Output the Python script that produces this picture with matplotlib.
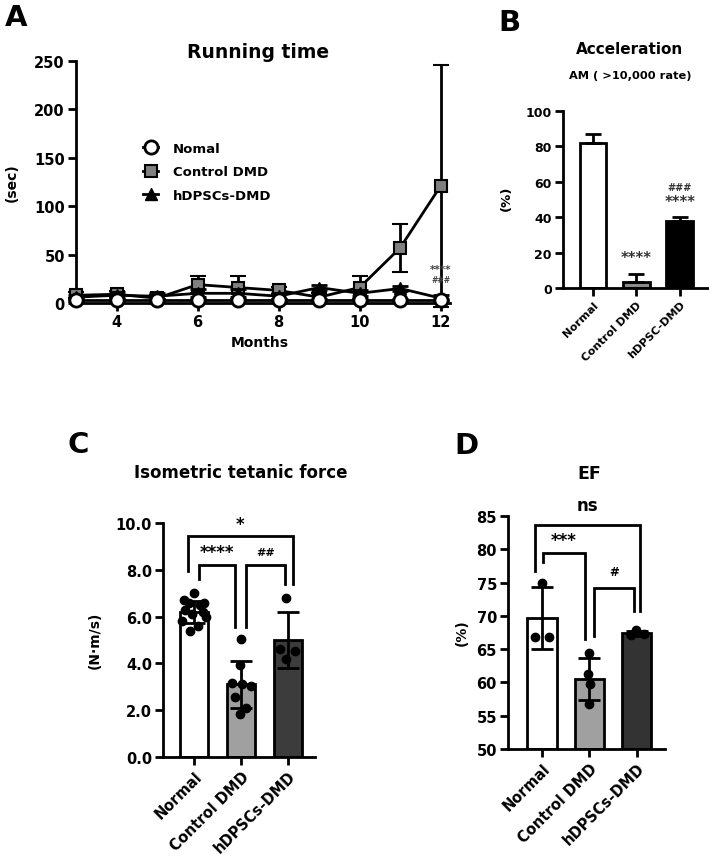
import matplotlib
matplotlib.use("Agg")
import matplotlib.pyplot as plt
from matplotlib.lines import Line2D
import numpy as np

plt.rcParams['font.family'] = ['DejaVu Sans']
plt.rcParams['font.weight'] = 'bold'

# ---- data ----
months = [3, 4, 5, 6, 7, 8, 9, 10, 11, 12]
normal_run = [3, 3, 3, 3, 3, 3, 3, 3, 3, 3]
normal_run_err = [1, 1, 1, 1, 1, 1, 1, 1, 1, 1]
control_run = [8, 9, 5, 19, 16, 13, 6, 16, 57, 121]
control_run_err = [3, 3, 3, 9, 12, 4, 4, 12, 25, 125]
hdpsc_run = [6, 8, 7, 10, 10, 7, 16, 10, 15, 5]
hdpsc_run_err = [2, 3, 3, 4, 4, 3, 3, 3, 3, 3]

groups_b = ["Normal", "Control DMD", "hDPSC-DMD"]
accel_mean = [82, 3.5, 38]
accel_err = [5, 4.5, 2]

groups_cd = ["Normal", "Control DMD", "hDPSCs-DMD"]
force_mean = [6.2, 3.1, 5.0]
force_sd = [0.48, 1.0, 1.2]
force_normal = [7.0, 6.7, 6.6, 6.6, 6.5, 6.3, 6.2, 6.1, 6.0, 5.8, 5.6, 5.4]
force_control = [5.05, 3.95, 3.15, 3.1, 3.05, 2.55, 2.1, 1.85]
force_hdpsc = [6.8, 4.6, 4.55, 4.2]

ef_mean = [69.7, 60.5, 67.4]
ef_sd = [4.65, 3.2, 0.4]
ef_normal = [75.0, 66.8, 66.8]
ef_control = [64.4, 61.3, 59.8, 56.8]
ef_hdpsc = [67.9, 67.2, 67.1]

W, H = 709, 862
fig = plt.figure(figsize=(W / 100, H / 100), dpi=100)


def px_axes(left, top, right, bottom):
    return fig.add_axes([left / W, 1 - bottom / H, (right - left) / W, (bottom - top) / H])


def ftext(x, y, s, size, **kw):
    fig.text(x / W, 1 - y / H, s, fontsize=size, fontweight='bold',
             ha=kw.pop('ha', 'center'), va=kw.pop('va', 'center'), **kw)


def style(ax, fs=10):
    for s in ['top', 'right']:
        ax.spines[s].set_visible(False)
    for s in ['left', 'bottom']:
        ax.spines[s].set_linewidth(2.0)
    ax.tick_params(width=2.0, length=6, labelsize=fs, pad=2)
    for lab in ax.get_xticklabels() + ax.get_yticklabels():
        lab.set_fontweight('bold')


def bracket(ax, x1, x2, y, yl1, yl2, text, ty, fs):
    ax.plot([x1, x1, x2, x2], [yl1, y, y, yl2], color='black', lw=2.0,
            solid_joinstyle='miter', clip_on=False)
    ax.text((x1 + x2) / 2, ty, text, ha='center', va='center', fontsize=fs,
            fontweight='bold', clip_on=False)


# ---- panel A ----
axA = px_axes(76, 62, 450, 304)
axA.errorbar(months, control_run, yerr=control_run_err, color='black', lw=2,
             marker='s', ms=8.5, mfc='#808080', mec='black', mew=1.5,
             capsize=6, capthick=2, elinewidth=2, clip_on=False, zorder=3)
axA.errorbar(months, hdpsc_run, yerr=hdpsc_run_err, color='black', lw=2,
             marker='^', ms=8.5, mfc='black', mec='black',
             capsize=6, capthick=2, elinewidth=2, clip_on=False, zorder=4)
axA.errorbar(months, normal_run, yerr=normal_run_err, color='black', lw=2,
             marker='o', ms=9.5, mfc='white', mec='black', mew=2,
             capsize=6, capthick=2, elinewidth=2, clip_on=False, zorder=5)
axA.set_xlim(3, 12.23)
axA.set_ylim(0, 250)
axA.set_xticks([4, 6, 8, 10, 12])
axA.set_yticks([0, 50, 100, 150, 200, 250])
style(axA, 10.5)
axA.text(12, 35, "****", ha='center', va='center', fontsize=7.5, color='#444444')
axA.text(12, 24, "###", ha='center', va='center', fontsize=5.5, color='#444444')
handles = [
    Line2D([], [], color='black', lw=2, marker='o', ms=9.5, mfc='white', mec='black', mew=2),
    Line2D([], [], color='black', lw=2, marker='s', ms=8.5, mfc='#808080', mec='black', mew=1.5),
    Line2D([], [], color='black', lw=2, marker='^', ms=9, mfc='black', mec='black'),
]
leg = fig.legend(handles, ["Nomal", "Control DMD", "hDPSCs-DMD"], loc='upper left',
                 bbox_to_anchor=(136 / W, 1 - 136 / H), frameon=False, borderpad=0,
                 handlelength=1.2, handletextpad=1.1, labelspacing=0.8,
                 prop={'size': 9.5, 'weight': 'bold'})
ftext(16, 18, "A", 21)
ftext(258, 53, "Running time", 13.5)
ftext(12, 183, "(sec)", 10, rotation=90)
ftext(260, 343, "Months", 10)

# ---- panel B ----
axB = px_axes(563, 112, 709, 289)
xb = np.arange(len(groups_b))
axB.bar(xb, accel_mean, width=0.62, color=['white', '#8c8c8c', 'black'],
        edgecolor='black', linewidth=2.0, zorder=2)
axB.errorbar(xb, accel_mean, yerr=[[0, 0, 0], accel_err], fmt='none', ecolor='black',
             elinewidth=2, capsize=6, capthick=2, zorder=3)
axB.set_xlim(-0.69, 2.67)
axB.set_ylim(0, 100)
axB.set_yticks([0, 20, 40, 60, 80, 100])
axB.set_xticks(xb)
axB.set_xticklabels(groups_b, rotation=45, ha='right', rotation_mode='anchor')
style(axB, 9)
for lab in axB.get_xticklabels():
    lab.set_fontsize(8)
axB.text(1, 17.5, "****", ha='center', va='center', fontsize=10.5, color='#333333')
axB.text(2, 48.6, "****", ha='center', va='center', fontsize=10.5, color='#333333')
axB.text(2, 57, "###", ha='center', va='center', fontsize=7, color='#333333')
ftext(509, 23, "B", 21)
ftext(630, 49, "Acceleration", 11)
ftext(630, 76, "AM ( >10,000 rate)", 8.2)
ftext(506, 198, "(%)", 9.5, rotation=90)

# ---- panel C ----
axC = px_axes(163, 524, 315, 758)
xc = np.arange(len(groups_cd))
axC.bar(xc, force_mean, width=0.6, color=['white', '#a0a0a0', '#3c3c3c'],
        edgecolor='black', linewidth=2.0, zorder=2)
axC.errorbar(xc, force_mean, yerr=force_sd, fmt='none', ecolor='black',
             elinewidth=2, capsize=8, capthick=2, zorder=4)
jit_n = [0.0, -0.22, 0.22, -0.1, 0.12, -0.2, 0.2, -0.05, 0.25, -0.25, 0.08, -0.08]
jit_c = [0.0, -0.03, -0.2, 0.02, 0.2, -0.14, 0.1, -0.02]
jit_h = [-0.05, -0.18, 0.15, -0.04]
axC.scatter(0 + np.array(jit_n), force_normal, s=36, color='black', zorder=3)
axC.scatter(1 + np.array(jit_c), force_control, s=36, color='black', zorder=3)
axC.scatter(2 + np.array(jit_h), force_hdpsc, s=36, color='black', zorder=3)
axC.set_xlim(-0.66, 2.57)
axC.set_ylim(0, 10)
axC.set_yticks(np.arange(0, 10.1, 2))
axC.set_yticklabels([f"{v:.1f}" for v in np.arange(0, 10.1, 2)])
axC.set_xticks(xc)
axC.set_xticklabels(groups_cd, rotation=45, ha='right', rotation_mode='anchor')
style(axC, 10.5)
bracket(axC, -0.13, 2.1, 9.44, 7.95, 7.4, "*", 9.95, 12)
bracket(axC, 0.1, 0.87, 8.2, 7.6, 5.55, "****", 8.75, 12)
bracket(axC, 1.1, 1.94, 8.2, 5.55, 7.4, "##", 8.75, 8)
ftext(78, 445, "C", 21)
ftext(241, 473, "Isometric tetanic force", 12)
ftext(95, 640, "(N·m/s)", 10, rotation=90)

# ---- panel D ----
axD = px_axes(508, 517, 665, 750)
axD.bar(xc, np.array(ef_mean) - 50, bottom=50, width=0.62,
        color=['white', '#a0a0a0', '#333333'], edgecolor='black', linewidth=2.0, zorder=2)
axD.errorbar(xc, ef_mean, yerr=ef_sd, fmt='none', ecolor='black',
             elinewidth=2, capsize=8, capthick=2, zorder=4)
axD.scatter(0 + np.array([0.0, -0.15, 0.15]), ef_normal, s=36, color='black', zorder=3)
axD.scatter(1 + np.array([0.0, -0.02, 0.02, 0.0]), ef_control, s=36, color='black', zorder=3)
axD.scatter(2 + np.array([-0.02, 0.15, -0.12]), ef_hdpsc, s=36, color='black', zorder=3)
axD.set_xlim(-0.72, 2.6)
axD.set_ylim(50, 85)
axD.set_yticks(np.arange(50, 86, 5))
axD.set_xticks(xc)
axD.set_xticklabels(groups_cd, rotation=45, ha='right', rotation_mode='anchor')
style(axD, 10.5)
bracket(axD, -0.15, 2.08, 83.6, 76.7, 70.7, "ns", 86.6, 12)
bracket(axD, 0.02, 0.9, 79.4, 78.1, 66.5, "***", 81.4, 12)
bracket(axD, 1.1, 1.95, 74.2, 67.0, 70.7, "#", 76.7, 8.5)
ftext(466, 446, "D", 21)
ftext(589, 474, "EF", 12.5)
ftext(462, 633, "(%)", 10, rotation=90)

fig.savefig("out.png", dpi=100)
